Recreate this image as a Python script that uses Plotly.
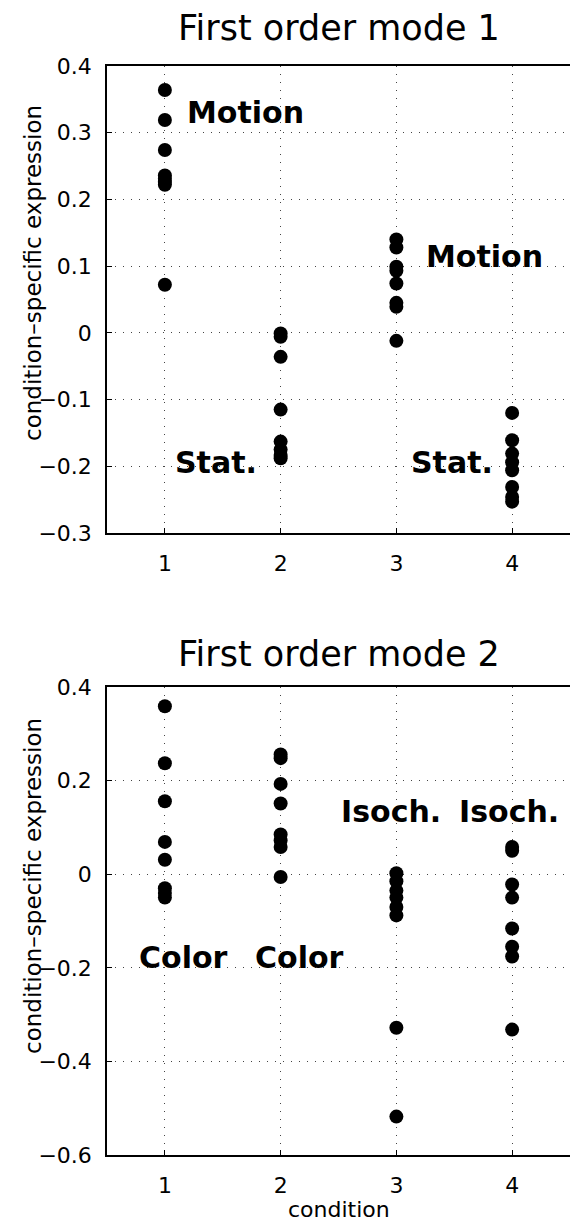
import plotly.graph_objects as go

# ---- data ----
conditions = [1, 2, 3, 4]
tick_labels = ["1", "2", "3", "4"]

mode1_c1 = [0.364, 0.319, 0.274, 0.236, 0.231, 0.226, 0.222, 0.072]
mode1_c2 = [-0.001, -0.006, -0.036, -0.115, -0.163, -0.175, -0.183, -0.188]
mode1_c3 = [0.140, 0.128, 0.099, 0.093, 0.074, 0.045, 0.039, -0.012]
mode1_c4 = [-0.120, -0.161, -0.181, -0.194, -0.206, -0.231, -0.246, -0.253]

mode2_c1 = [0.359, 0.237, 0.156, 0.069, 0.031, -0.030, -0.040, -0.050]
mode2_c2 = [0.256, 0.248, 0.193, 0.151, 0.085, 0.072, 0.058, -0.006]
mode2_c3 = [0.002, -0.015, -0.035, -0.050, -0.070, -0.088, -0.328, -0.518]
mode2_c4 = [0.058, 0.050, -0.022, -0.050, -0.116, -0.155, -0.176, -0.332]

mode1_yticks = [0.4, 0.3, 0.2, 0.1, 0.0, -0.1, -0.2, -0.3]
mode1_yticktext = ["0.4", "0.3", "0.2", "0.1", "0", "\u22120.1", "\u22120.2", "\u22120.3"]
mode2_yticks = [0.4, 0.2, 0.0, -0.2, -0.4, -0.6]
mode2_yticktext = ["0.4", "0.2", "0", "\u22120.2", "\u22120.4", "\u22120.6"]

mode1_labels = ["Motion", "Stat.", "Motion", "Stat."]
mode1_label_x = [1.70, 1.44, 3.76, 3.48]
mode1_label_y = [0.331, -0.194, 0.114, -0.194]

mode2_labels = ["Color", "Color", "Isoch.", "Isoch."]
mode2_label_x = [1.16, 2.16, 2.95, 3.97]
mode2_label_y = [-0.178, -0.178, 0.135, 0.135]

titles = ["First order mode 1", "First order mode 2"]
y_title = "condition\u2013specific expression"
x_title = "condition"

W, H = 570, 1226
FONT = "DejaVu Sans, Liberation Sans, Arial, sans-serif"

fig = go.Figure()

def add_points(cols, xa, ya):
    for c, vals in zip(conditions, cols):
        fig.add_trace(go.Scatter(
            x=[c] * len(vals), y=vals, mode="markers",
            marker=dict(color="black", size=14, line=dict(width=0)),
            xaxis=xa, yaxis=ya, showlegend=False, hoverinfo="y"))

add_points([mode1_c1, mode1_c2, mode1_c3, mode1_c4], "x", "y")
add_points([mode2_c1, mode2_c2, mode2_c3, mode2_c4], "x2", "y2")

# pixel geometry of the two axes boxes
X0, X1 = 107, 570
T0, T1 = 66, 533
B0, B1 = 687, 1155
x_dom = [X0 / W, X1 / W]
top_dom = [1 - T1 / H, 1 - T0 / H]
bot_dom = [1 - B1 / H, 1 - B0 / H]

axis_common = dict(
    showline=True, linecolor="black", linewidth=1.5,
    showgrid=True, gridcolor="#444444", gridwidth=1, griddash="1px,7px",
    zeroline=False, ticks="inside", ticklen=5, tickcolor="black",
    automargin=False,
    tickfont=dict(family=FONT, size=22, color="black"),
)

fig.update_layout(
    width=W, height=H,
    margin=dict(l=0, r=0, t=0, b=0, autoexpand=False),
    paper_bgcolor="white", plot_bgcolor="white",
    font=dict(family=FONT, color="black"),
    xaxis=dict(domain=x_dom, anchor="y", range=[0.5, 4.5], tickvals=conditions,
               ticktext=tick_labels, mirror=True, ticklabelstandoff=10, **axis_common),
    yaxis=dict(domain=top_dom, anchor="x", range=[-0.3, 0.4], tickvals=mode1_yticks,
               ticktext=mode1_yticktext, mirror=False, ticklabelstandoff=9, **axis_common),
    xaxis2=dict(domain=x_dom, anchor="y2", range=[0.5, 4.5], tickvals=conditions,
                ticktext=tick_labels, mirror=True, ticklabelstandoff=10, **axis_common),
    yaxis2=dict(domain=bot_dom, anchor="x2", range=[-0.6, 0.4], tickvals=mode2_yticks,
                ticktext=mode2_yticktext, mirror=False, ticklabelstandoff=9, **axis_common),
)

def text_ann(text, x, y, size, xref="paper", yref="paper", angle=0):
    return dict(text=text, x=x, y=y, xref=xref, yref=yref, textangle=angle,
                xanchor="center", yanchor="middle", showarrow=False,
                font=dict(family=FONT, size=size, color="black"))

ann = []
for t, xx, yy in zip(mode1_labels, mode1_label_x, mode1_label_y):
    ann.append(text_ann("<b>%s</b>" % t, xx, yy, 30, "x", "y"))
for t, xx, yy in zip(mode2_labels, mode2_label_x, mode2_label_y):
    ann.append(text_ann("<b>%s</b>" % t, xx, yy, 30, "x2", "y2"))
cx = (X0 + X1) / 2 / W
ann.append(text_ann(titles[0], cx, 1 - 28 / H, 35))
ann.append(text_ann(titles[1], cx, 1 - 654 / H, 35))
ann.append(text_ann(y_title, 33 / W, 1 - 273 / H, 23, angle=-90))
ann.append(text_ann(y_title, 33 / W, 1 - 886 / H, 23, angle=-90))
ann.append(text_ann(x_title, cx, 1 - 1209 / H, 22))
fig.update_layout(annotations=ann)

fig.write_html("out.html", config={"displayModeBar": False},
               post_script="document.body.style.margin='0px';document.body.style.padding='0px';")
